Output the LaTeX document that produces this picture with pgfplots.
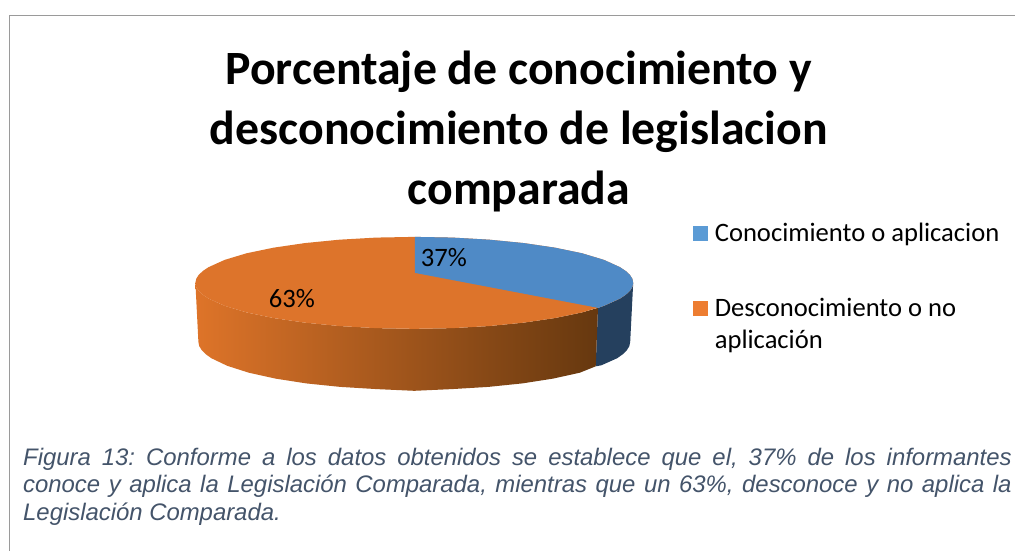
\documentclass[border=0pt]{standalone}
\usepackage{pgfplots}
\pgfplotsset{compat=1.18}
\usepackage{fontspec}
\setmainfont{Carlito}
\newfontfamily\capfont{Liberation Sans}
\definecolor{pieorange}{HTML}{DD742B}
\definecolor{pieblue}{HTML}{4F8AC6}
\definecolor{sideL}{HTML}{DE7429}
\definecolor{sideM}{HTML}{AE5F26}
\definecolor{sideR}{HTML}{66380F}
\definecolor{sideblue}{HTML}{25405E}
\definecolor{legblue}{HTML}{5B9BD5}
\definecolor{legorange}{HTML}{ED7D31}
\definecolor{capcol}{HTML}{44546A}
\definecolor{framecol}{HTML}{9A9A9A}
\begin{document}
\frenchspacing
\begin{tikzpicture}
\begin{axis}[
  width=1015pt,height=551pt,scale only axis,
  xmin=0,xmax=1015,ymin=0,ymax=551,y dir=reverse,
  hide axis,clip=false]
% page extent
\addplot[draw=white,fill=white,line width=0pt] coordinates {(0,0) (1015,0) (1015,551) (0,551)} --cycle;
% frame
\addplot[draw=framecol,line width=1pt] coordinates {(9.5,551) (9.5,15.5) (1015,15.5)};
% blue side (37%)
\addplot[draw=none,fill=sideblue] coordinates {
 (598.3,308) (604.2,306) (620.3,298.7) (626,294.9) (630.2,291) (632.7,287) (633.5,283)
 (630.5,342) (629.7,346.2) (627.2,350.3) (623.1,354.4) (617.5,358.4) (601.6,365.5) (596,366.5)} --cycle;
% orange side (63%)
\addplot[draw=none,left color=sideL,middle color=sideM,right color=sideR] coordinates {
 (195.5,283) (196.3,287) (198.8,291) (203,294.9) (208.7,298.7) (224.8,306) (246.7,312.6) (273.7,318.2) (305,322.8) (339.6,326.2) (376.5,328.3) (414.5,329)
 (452.5,328.3) (489.4,326.2) (524,322.8) (555.3,318.2) (582.3,312.6) (598.3,308)
 (596,366.5) (580,372.9) (553.3,378.8) (522.5,383.6) (488.4,387.1) (452,389.3) (414.5,391)
 (377,389.3) (340.6,387.1) (306.5,383.6) (275.7,378.8) (249,372.9) (227.4,366) (211.5,358.4) (205.9,354.4) (201.8,350.3) (199.3,346.2) (198.5,342)} --cycle;
% top face, orange 63%
\addplot[draw=none,fill=pieorange] coordinates {
 (633.5,283) (632.7,279) (630.2,275) (626,271.1) (620.3,267.3) (604.2,260) (582.3,253.4) (555.3,247.8) (524,243.2) (489.4,239.8) (452.5,237.7) (414.5,237)
 (376.5,237.7) (339.6,239.8) (305,243.2) (273.7,247.8) (246.7,253.4) (224.8,260) (208.7,267.3) (203,271.1) (198.8,275) (196.3,279) (195.5,283)
 (196.3,287) (198.8,291) (203,294.9) (208.7,298.7) (224.8,306) (246.7,312.6) (273.7,318.2) (305,322.8) (339.6,326.2) (376.5,328.3) (414.5,329)
 (452.5,328.3) (489.4,326.2) (524,322.8) (555.3,318.2) (582.3,312.6) (604.2,306) (620.3,298.7) (626,294.9) (630.2,291) (632.7,287)} --cycle;
% top face, blue 37%
\addplot[draw=none,fill=pieblue] coordinates {
 (415,273) (415,237) (452.5,237.7) (489.4,239.8) (524,243.2) (555.3,247.8) (582.3,253.4) (604.2,260) (620.3,267.3) (626,271.1) (630.2,275) (632.7,279) (633.5,283)
 (632.7,287) (630.2,291) (626,294.9) (620.3,298.7) (604.2,306) (598.3,308)} --cycle;
% legend swatches
\addplot[draw=none,fill=legblue] coordinates {(693,226) (708,226) (708,241) (693,241)} --cycle;
\addplot[draw=none,fill=legorange] coordinates {(693,301) (708,301) (708,316) (693,316)} --cycle;
% title
\node[anchor=base,font=\fontsize{47.8}{50}\selectfont\bfseries] at (axis cs:519,85) {Porcentaje de conocimiento y};
\node[anchor=base,font=\fontsize{47.8}{50}\selectfont\bfseries] at (axis cs:519,145) {desconocimiento de legislacion};
\node[anchor=base,font=\fontsize{47.8}{50}\selectfont\bfseries] at (axis cs:519,205) {comparada};
% data labels
\node[anchor=base,font=\fontsize{26.6}{30}\selectfont] at (axis cs:444,267) {37\%};
\node[anchor=base,font=\fontsize{26.6}{30}\selectfont] at (axis cs:292,308) {63\%};
% legend text
\node[anchor=base west,inner sep=0pt,font=\fontsize{26.6}{30}\selectfont] at (axis cs:715,242) {Conocimiento o aplicacion};
\node[anchor=base west,inner sep=0pt,font=\fontsize{26.6}{30}\selectfont] at (axis cs:715,317) {Desconocimiento o no};
\node[anchor=base west,inner sep=0pt,font=\fontsize{26.6}{30}\selectfont] at (axis cs:715,349) {aplicación};
% caption
\node[anchor=base west,inner sep=0pt,text=capcol,font=\capfont\itshape\fontsize{23.9}{28}\selectfont] at (axis cs:23,466) {\makebox[989pt][s]{Figura 13: Conforme a los datos obtenidos se establece que el, 37\% de los informantes}};
\node[anchor=base west,inner sep=0pt,text=capcol,font=\capfont\itshape\fontsize{23.9}{28}\selectfont] at (axis cs:23,493) {\makebox[989pt][s]{conoce y aplica la Legislación Comparada, mientras que un 63\%, desconoce y no aplica la}};
\node[anchor=base west,inner sep=0pt,text=capcol,font=\capfont\itshape\fontsize{23.9}{28}\selectfont] at (axis cs:23,521) {Legislación Comparada.};
\end{axis}
\end{tikzpicture}
\end{document}
